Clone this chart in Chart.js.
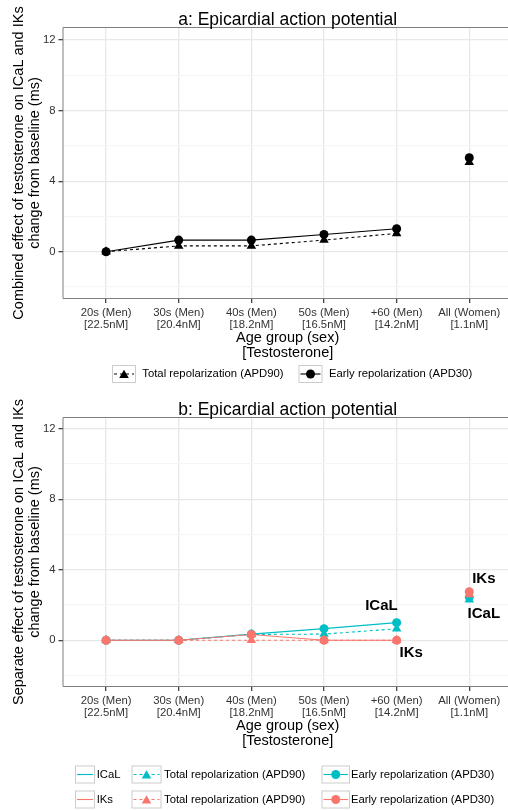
<!DOCTYPE html>
<html><head><meta charset="utf-8">
<script src="https://cdn.jsdelivr.net/npm/chart.js@4/dist/chart.umd.min.js"></script>
<style>
html,body{margin:0;padding:0;background:#fff;overflow:hidden;width:508px;height:810px}
canvas{position:absolute;left:0}
#c1{top:0}
#c2{top:390px}
</style></head><body>
<canvas id="c1" width="508" height="390"></canvas>
<canvas id="c2" width="508" height="420"></canvas>
<script>
// ---------- data ----------
const categories = [
  ['20s (Men)', '[22.5nM]'],
  ['30s (Men)', '[20.4nM]'],
  ['40s (Men)', '[18.2nM]'],
  ['50s (Men)', '[16.5nM]'],
  ['+60 (Men)', '[14.2nM]'],
  ['All (Women)', '[1.1nM]']
];
const groupPositions = [1, 2, 3, 4, 5, 6];
const yMajorTicks = [0, 4, 8, 12];
const yMinorTicks = [-2, 2, 6, 10];

const seriesNames = ['Total repolarization (APD90)', 'Early repolarization (APD30)'];
const channelNames = ['ICaL', 'IKs'];

// panel a: combined effect
const combinedAPD90 = [0, 0.33, 0.33, 0.66, 1.04, 5.07];
const combinedAPD30 = [0, 0.66, 0.66, 0.98, 1.30, 5.33];

// panel b: separate effect
const icalAPD90 = [0, 0, 0.33, 0.35, 0.65, 2.30];
const icalAPD30 = [0, 0, 0.35, 0.66, 1.00, 2.45];
const iksAPD90  = [0, 0, 0, 0, 0, 2.60];
const iksAPD30  = [0, 0, 0.33, 0, 0, 2.75];

// text annotations in panel b (data coordinates)
const annotationTexts = ['ICaL', 'IKs', 'IKs', 'ICaL'];
const annotationX = [4.79, 5.2, 6.2, 6.2];
const annotationY = [1.96, -0.71, 3.48, 1.5];

const titleA = 'a: Epicardial action potential';
const titleB = 'b: Epicardial action potential';
const yTitleA = ['Combined effect of testosterone on ICaL and IKs', 'change from baseline (ms)'];
const yTitleB = ['Separate effect of testosterone on ICaL and IKs', 'change from baseline (ms)'];
const xTitle = ['Age group (sex)', '[Testosterone]'];

// ---------- styling ----------
const FONT = '"Liberation Sans", Arial, Helvetica, sans-serif';
const TEAL = '#00BFC4', SALMON = '#F8766D', BLACK = '#000000';
const TRI_R = 5.5, CIR_R = 4.5;

function toPoints(vals) { return vals.map((v, i) => ({ x: groupPositions[i], y: v })); }
const lastIdx = groupPositions.length - 1;
const hideLast = { borderColor: c => c.p1DataIndex === lastIdx ? 'rgba(0,0,0,0)' : undefined };

function mkDataset(label, vals, color, style, dashed, order) {
  return {
    label, data: toPoints(vals), borderColor: color, backgroundColor: color,
    borderWidth: 1.1, borderDash: dashed ? [3, 3] : [], pointStyle: style,
    pointRadius: style === 'triangle' ? TRI_R : CIR_R, pointBorderWidth: 0,
    pointBackgroundColor: color, tension: 0, segment: hideLast, order
  };
}

function drawMark(ctx, style, x, y, r, color) {
  ctx.save();
  ctx.fillStyle = color;
  ctx.beginPath();
  if (style === 'triangle') {
    const a = 2 * Math.PI / 3;
    ctx.moveTo(x, y - r);
    ctx.lineTo(x + Math.sin(a) * r, y - Math.cos(a) * r);
    ctx.lineTo(x + Math.sin(2 * a) * r, y - Math.cos(2 * a) * r);
    ctx.closePath();
  } else {
    ctx.arc(x, y, r, 0, Math.PI * 2);
  }
  ctx.fill();
  ctx.restore();
}

const decorPlugin = {
  id: 'decor',
  afterDatasetsDraw(chart, args, o) {
    const ctx = chart.ctx, ca = chart.chartArea;
    const xs = chart.scales.x, ys = chart.scales.y;
    // panel border (right edge cropped off the page)
    ctx.save();
    ctx.strokeStyle = '#7f7f7f';
    ctx.lineWidth = 1;
    ctx.beginPath();
    ctx.moveTo(chart.width + 5, ca.top + 0.5);
    ctx.lineTo(ca.left + 0.5, ca.top + 0.5);
    ctx.lineTo(ca.left + 0.5, ca.bottom - 0.5);
    ctx.lineTo(chart.width + 5, ca.bottom - 0.5);
    ctx.stroke();
    ctx.restore();

    // annotations
    if (o.annotations) {
      ctx.save();
      ctx.fillStyle = '#000';
      ctx.font = 'bold 15px ' + FONT;
      ctx.textAlign = 'center';
      ctx.textBaseline = 'middle';
      o.annotations.texts.forEach((t, i) => {
        ctx.fillText(t, xs.getPixelForValue(o.annotations.x[i]), ys.getPixelForValue(o.annotations.y[i]));
      });
      ctx.restore();
    }
  },
  afterDraw(chart, args, o) {
    const ctx = chart.ctx, ca = chart.chartArea;
    const xs = chart.scales.x;
    const cx = xs.getPixelForValue((groupPositions[0] + groupPositions[lastIdx]) / 2);
    ctx.save();
    ctx.fillStyle = '#000';
    ctx.textAlign = 'center';
    ctx.textBaseline = 'alphabetic';
    // title
    ctx.font = '17.5px ' + FONT;
    ctx.fillText(o.title, cx, ca.top - 2.5);
    // x title
    ctx.font = '14.5px ' + FONT;
    ctx.fillText(xTitle[0], cx, ca.bottom + 43);
    ctx.fillText(xTitle[1], cx, ca.bottom + 58);
    // y title
    const cy = (ca.top + ca.bottom) / 2;
    [22.5, 39].forEach((bx, i) => {
      ctx.save();
      ctx.translate(bx, cy);
      ctx.rotate(-Math.PI / 2);
      ctx.fillText(o.yTitle[i], 0, 0);
      ctx.restore();
    });
    // legend
    ctx.font = '11.3px ' + FONT;
    ctx.textAlign = 'left';
    ctx.textBaseline = 'middle';
    o.legend.forEach(it => {
      ctx.save();
      ctx.strokeStyle = '#cccccc';
      ctx.lineWidth = 1;
      ctx.strokeRect(it.x + 0.5, it.y + 0.5, it.w, it.h);
      const my = it.y + 0.5 + it.h / 2;
      const mx = it.x + 0.5 + it.w / 2;
      ctx.strokeStyle = it.color;
      ctx.lineWidth = 1.1;
      ctx.setLineDash(it.dashed ? [3, 3] : []);
      ctx.beginPath();
      ctx.moveTo(it.x + 2, my);
      ctx.lineTo(it.x + it.w - 1, my);
      ctx.stroke();
      ctx.setLineDash([]);
      if (it.marker) drawMark(ctx, it.marker, mx, my + (it.marker === 'triangle' ? 1.2 : 0), it.marker === 'triangle' ? TRI_R : CIR_R, it.color);
      ctx.fillStyle = '#000';
      ctx.fillText(it.text, it.tx, my);
      ctx.restore();
    });
    ctx.restore();
  }
};

function makeOptions(yMin, yMax, xHeight, topPad, extra) {
  return {
    responsive: false, animation: false, devicePixelRatio: 1,
    layout: { padding: { top: topPad, left: 0, right: 0, bottom: 0 }, autoPadding: false },
    plugins: { legend: { display: false }, title: { display: false }, tooltip: { enabled: false }, decor: extra },
    scales: {
      x: {
        type: 'linear', min: 0.4, max: 6.533,
        border: { display: false },
        afterBuildTicks: s => { s.ticks = groupPositions.map(v => ({ value: v })); },
        afterFit: s => { s.height = xHeight; },
        grid: { color: '#e8e8e8', lineWidth: 1.3, tickColor: '#444', tickLength: 4, drawTicks: true },
        ticks: {
          callback: (v) => categories[groupPositions.indexOf(v)],
          font: { family: FONT, size: 11.3, lineHeight: 1.05 }, color: '#333', padding: 4,
          maxRotation: 0, autoSkip: false
        }
      },
      y: {
        type: 'linear', min: yMin, max: yMax,
        border: { display: false },
        afterBuildTicks: s => { s.ticks = [...yMinorTicks, ...yMajorTicks].sort((a, b) => a - b).map(v => ({ value: v })); },
        afterFit: s => { s.width = 62.5; },
        grid: {
          color: c => yMajorTicks.includes(c.tick.value) ? '#e8e8e8' : '#f5f5f5',
          lineWidth: 1.3,
          tickColor: c => yMajorTicks.includes(c.tick.value) ? '#444' : 'rgba(0,0,0,0)',
          tickLength: 4
        },
        ticks: {
          callback: v => yMajorTicks.includes(v) ? String(v) : '',
          font: { family: FONT, size: 11.3 }, color: '#333', padding: 3, autoSkip: false
        }
      }
    }
  };
}

// ---------- chart a ----------
new Chart(document.getElementById('c1'), {
  type: 'line',
  data: {
    datasets: [
      mkDataset(seriesNames[1], combinedAPD30, BLACK, 'circle', false, 0),
      mkDataset(seriesNames[0], combinedAPD90, BLACK, 'triangle', true, 1)
    ]
  },
  options: makeOptions(-2.68, 12.74, 91, 27, {
    title: titleA, yTitle: yTitleA,
    legend: [
      { x: 112, y: 365, w: 23, h: 17, tx: 142.3, text: seriesNames[0], color: BLACK, dashed: true, marker: 'triangle' },
      { x: 298.5, y: 365, w: 23, h: 17, tx: 329, text: seriesNames[1], color: BLACK, dashed: false, marker: 'circle' }
    ]
  }),
  plugins: [decorPlugin]
});

// ---------- chart b ----------
new Chart(document.getElementById('c2'), {
  type: 'line',
  data: {
    datasets: [
      mkDataset(channelNames[1] + ' ' + seriesNames[1], iksAPD30, SALMON, 'circle', false, 0),
      mkDataset(channelNames[1] + ' ' + seriesNames[0], iksAPD90, SALMON, 'triangle', true, 1),
      mkDataset(channelNames[0] + ' ' + seriesNames[1], icalAPD30, TEAL, 'circle', false, 2),
      mkDataset(channelNames[0] + ' ' + seriesNames[0], icalAPD90, TEAL, 'triangle', true, 3)
    ]
  },
  options: makeOptions(-2.65, 12.66, 123, 27, {
    title: titleB, yTitle: yTitleB,
    annotations: { texts: annotationTexts, x: annotationX, y: annotationY },
    legend: [
      { x: 75, y: 375.5, w: 19, h: 17, tx: 96.7, text: channelNames[0], color: TEAL, dashed: false, marker: null },
      { x: 75, y: 400.5, w: 19, h: 17, tx: 96.7, text: channelNames[1], color: SALMON, dashed: false, marker: null },
      { x: 131.5, y: 375.5, w: 29, h: 17, tx: 164, text: seriesNames[0], color: TEAL, dashed: true, marker: 'triangle' },
      { x: 131.5, y: 400.5, w: 29, h: 17, tx: 164, text: seriesNames[0], color: SALMON, dashed: true, marker: 'triangle' },
      { x: 321.5, y: 375.5, w: 27.5, h: 17, tx: 351, text: seriesNames[1], color: TEAL, dashed: false, marker: 'circle' },
      { x: 321.5, y: 400.5, w: 27.5, h: 17, tx: 351, text: seriesNames[1], color: SALMON, dashed: false, marker: 'circle' }
    ]
  }),
  plugins: [decorPlugin]
});
</script>
</body></html>
